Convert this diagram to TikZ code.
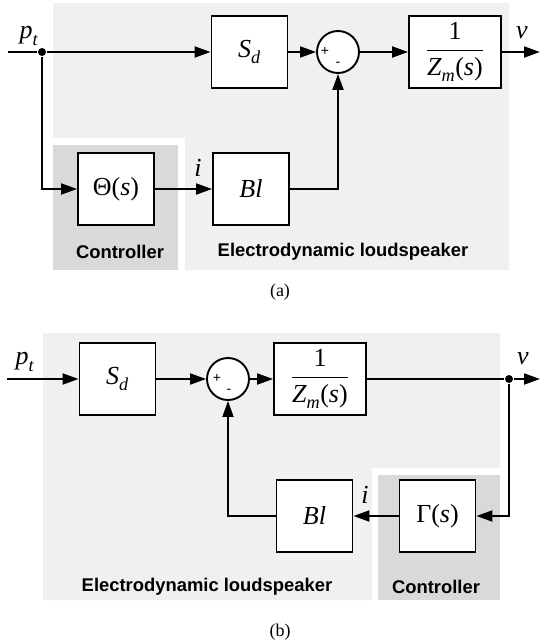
\documentclass[tikz,border=0pt]{standalone}
\usepackage{amsmath}
\usepackage{fontspec}
\usepackage{unicode-math}
\setmainfont{Liberation Serif}
\setmathfont{Latin Modern Math}
\setmathfont{Liberation Serif Italic}[range={it/{Latin,latin}}]
\setmathfont{Liberation Serif}[range={up/{num,Greek},"28-"29}]
\newfontfamily\labelfont{Liberation Sans}
\usepackage{tikz}
\usetikzlibrary{arrows.meta}
\usetikzlibrary{positioning}
\definecolor{spkgray}{HTML}{F0F0F0}
\definecolor{ctrlgray}{HTML}{D9D9D9}

\begin{document}
\begin{tikzpicture}[
  x=1pt, y=-1pt,
  block/.style={draw,fill=white,line width=1.9pt,minimum width=76pt,minimum height=72pt,inner sep=0pt,font=\fontsize{26}{28}\selectfont},
  sumnode/.style={circle,draw,fill=white,line width=1.9pt,minimum size=42pt,inner sep=0pt},
  sig/.style={font=\fontsize{26}{28}\selectfont},
  region/.style={font=\labelfont\bfseries\fontsize{18.4}{20}\selectfont},
  sign/.style={font=\labelfont\fontsize{14}{15}\selectfont},
  dot/.style={circle,fill,inner sep=0pt,minimum size=8pt},
  line width=1.9pt, ->, >={Triangle[length=16pt,width=11pt]}
]
  \useasboundingbox (0,0) rectangle (540,643);

  % (a) controller in front of the loudspeaker
  \begin{scope}
    \fill[spkgray] (53,3) -- (509,3) -- (509,270) -- (185,270) -- (185,138) -- (53,138) -- cycle;
    \fill[ctrlgray] (53,145) rectangle (178,270);
    \node[block] (sda) at (249.5,52) {$S_d$};
    \node[sumnode] (suma) at (338,52) {};
    \node[block,minimum width=92pt] (zma) at (455,52) {$\dfrac{1}{Z_m(s)}$};
    \node[block] (theta) at (116,189) {$\Theta(s)$};
    \node[block] (bla) at (251,189) {$Bl$};
    \node[dot] (pa) at (42,52) {};
    \coordinate (ina) at (8,52);
    \coordinate (outa) at (540,52);
    \node[sig] (pta) at (29,36) {$p_t$};
    \node[sig] (va) at (522,33) {$v$};
    \node[sig] (ia) at (198,168) {$i$};
    \node[sign] (plusa) at (325,51) {+};
    \node[sign] (minusa) at (338,64) {-};
    \node[region] (ctrla) at (120,252) {Controller};
    \node[region] (spka) at (343,252) {Electrodynamic loudspeaker};
    \node[font=\fontsize{18}{20}\selectfont] (capa) at (280,292) {(a)};
    \draw[-] (ina) -- (pa);
    \draw (pa) -- (sda);
    \draw (pa) |- (theta);
    \draw (sda) -- (suma);
    \draw (suma) -- (zma);
    \draw (zma) -- (outa);
    \draw (theta) -- (bla);
    \draw (bla) -| (suma);
  \end{scope}

  % (b) controller in the feedback path
  \begin{scope}
    \fill[spkgray] (43,333) -- (500,333) -- (500,468) -- (372,468) -- (372,600) -- (43,600) -- cycle;
    \fill[ctrlgray] (378,475) rectangle (500,600);
    \node[block] (sdb) at (117.5,379) {$S_d$};
    \node[sumnode] (sumb) at (228,379) {};
    \node[block,minimum width=92pt] (zmb) at (320,379) {$\dfrac{1}{Z_m(s)}$};
    \node[block] (blb) at (314.5,516) {$Bl$};
    \node[block] (gamma) at (437.5,516) {$\Gamma(s)$};
    \node[dot] (pb) at (509,379) {};
    \coordinate (inb) at (7,379);
    \coordinate (outb) at (540,379);
    \node[sig] (ptb) at (25,362) {$p_t$};
    \node[sig] (vb) at (523,359) {$v$};
    \node[sig] (ib) at (365,495) {$i$};
    \node[sign] (plusb) at (217,378) {+};
    \node[sign] (minusb) at (229,391) {-};
    \node[region] (spkb) at (207,587) {Electrodynamic loudspeaker};
    \node[region] (ctrlb) at (436,587) {Controller};
    \node[font=\fontsize{18}{20}\selectfont] (capb) at (280,632) {(b)};
    \draw (inb) -- (sdb);
    \draw (sdb) -- (sumb);
    \draw (sumb) -- (zmb);
    \draw[-] (zmb) -- (pb);
    \draw (pb) -- (outb);
    \draw (pb) |- (gamma);
    \draw (gamma) -- (blb);
    \draw (blb) -| (sumb);
  \end{scope}
\end{tikzpicture}
\end{document}
